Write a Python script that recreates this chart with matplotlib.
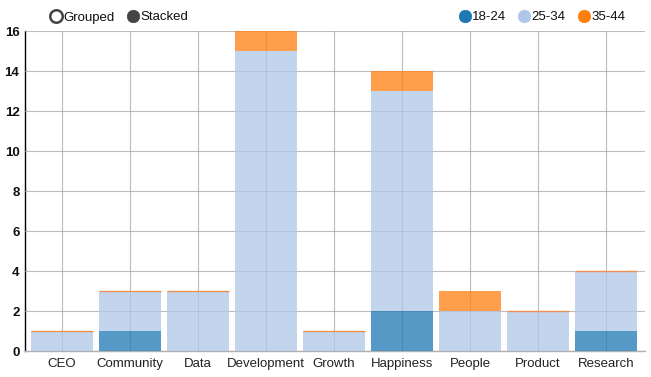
import matplotlib
matplotlib.use("Agg")
import matplotlib.pyplot as plt
import numpy as np
from matplotlib.lines import Line2D

plt.rcParams['font.family'] = ['Liberation Sans', 'DejaVu Sans']

categories = ["CEO", "Community", "Data", "Development", "Growth", "Happiness", "People", "Product", "Research"]
s18_24 = [0, 1, 0, 0, 0, 2, 0, 0, 1]
s25_34 = [1, 2, 3, 15, 1, 11, 2, 2, 3]
s35_44 = [0, 0, 0, 1, 0, 1, 1, 0, 0]
series_names = ["18-24", "25-34", "35-44"]
colors = ["#1f77b4", "#aec7e8", "#ff7f0e"]
yticks = [0, 2, 4, 6, 8, 10, 12, 14, 16]

W, H = 651, 377
fig = plt.figure(figsize=(W / 100, H / 100), dpi=100)
ax = fig.add_axes([25 / W, 1 - 351 / H, (645 - 25) / W, (351 - 31) / H])

x = np.arange(len(categories))
width = 0.91
bottom = np.zeros(len(categories))
for vals, c in zip([s18_24, s25_34, s35_44], colors):
    vals = np.array(vals, dtype=float)
    ax.bar(x, vals, width, bottom=bottom, color=c, alpha=0.75, linewidth=0, zorder=3)
    bottom += vals
# thin top strokes of the zero-height 35-44 segments
for i, v in enumerate(s35_44):
    if v == 0:
        ax.plot([x[i] - width / 2, x[i] + width / 2], [bottom[i], bottom[i]],
                color="#ee9050", lw=1.0, zorder=6, solid_capstyle="butt")

ax.set_xlim(-0.544, len(categories) - 1 + 0.574)
ax.set_ylim(0, 16)
ax.set_yticks(yticks)
ax.set_yticklabels([str(t) for t in yticks], fontweight="bold", fontsize=9.5, color="#111111")
ax.set_xticks(x)
ax.set_xticklabels(categories, fontsize=9.5, color="#222222")
ax.tick_params(axis="both", length=0, pad=4)
ax.tick_params(axis="x", pad=5)
ax.grid(True, color="#a0a0a0", lw=0.8, zorder=0)
ax.set_axisbelow(False)
for gl in ax.get_xgridlines() + ax.get_ygridlines():
    gl.set_zorder(5)
    gl.set_alpha(0.7)
for s in ["top", "right"]:
    ax.spines[s].set_visible(False)
ax.spines["left"].set_color("#000000")
ax.spines["left"].set_linewidth(1)
ax.spines["bottom"].set_color("#b0b0b0")
ax.spines["bottom"].set_linewidth(1)

# legends
yl = 1 - 16 / H
def legend_item(xc, label, face, edge, hollow=False):
    m = Line2D([xc / W], [yl], marker="o", markersize=9,
               markerfacecolor=("white" if hollow else face),
               markeredgecolor=edge, markeredgewidth=1.8 if hollow else 0.5,
               transform=fig.transFigure, linestyle="none")
    fig.add_artist(m)
    fig.text((xc + 7) / W, yl - 1.5 / H, label, fontsize=9.5, va="center", ha="left", color="#111111")

legend_item(56, "Grouped", "white", "#444444", hollow=True)
legend_item(133, "Stacked", "#444444", "#444444")
legend_item(465, series_names[0], colors[0], colors[0])
legend_item(524, series_names[1], colors[1], colors[1])
legend_item(584, series_names[2], colors[2], colors[2])

fig.savefig("out.png", dpi=100)
